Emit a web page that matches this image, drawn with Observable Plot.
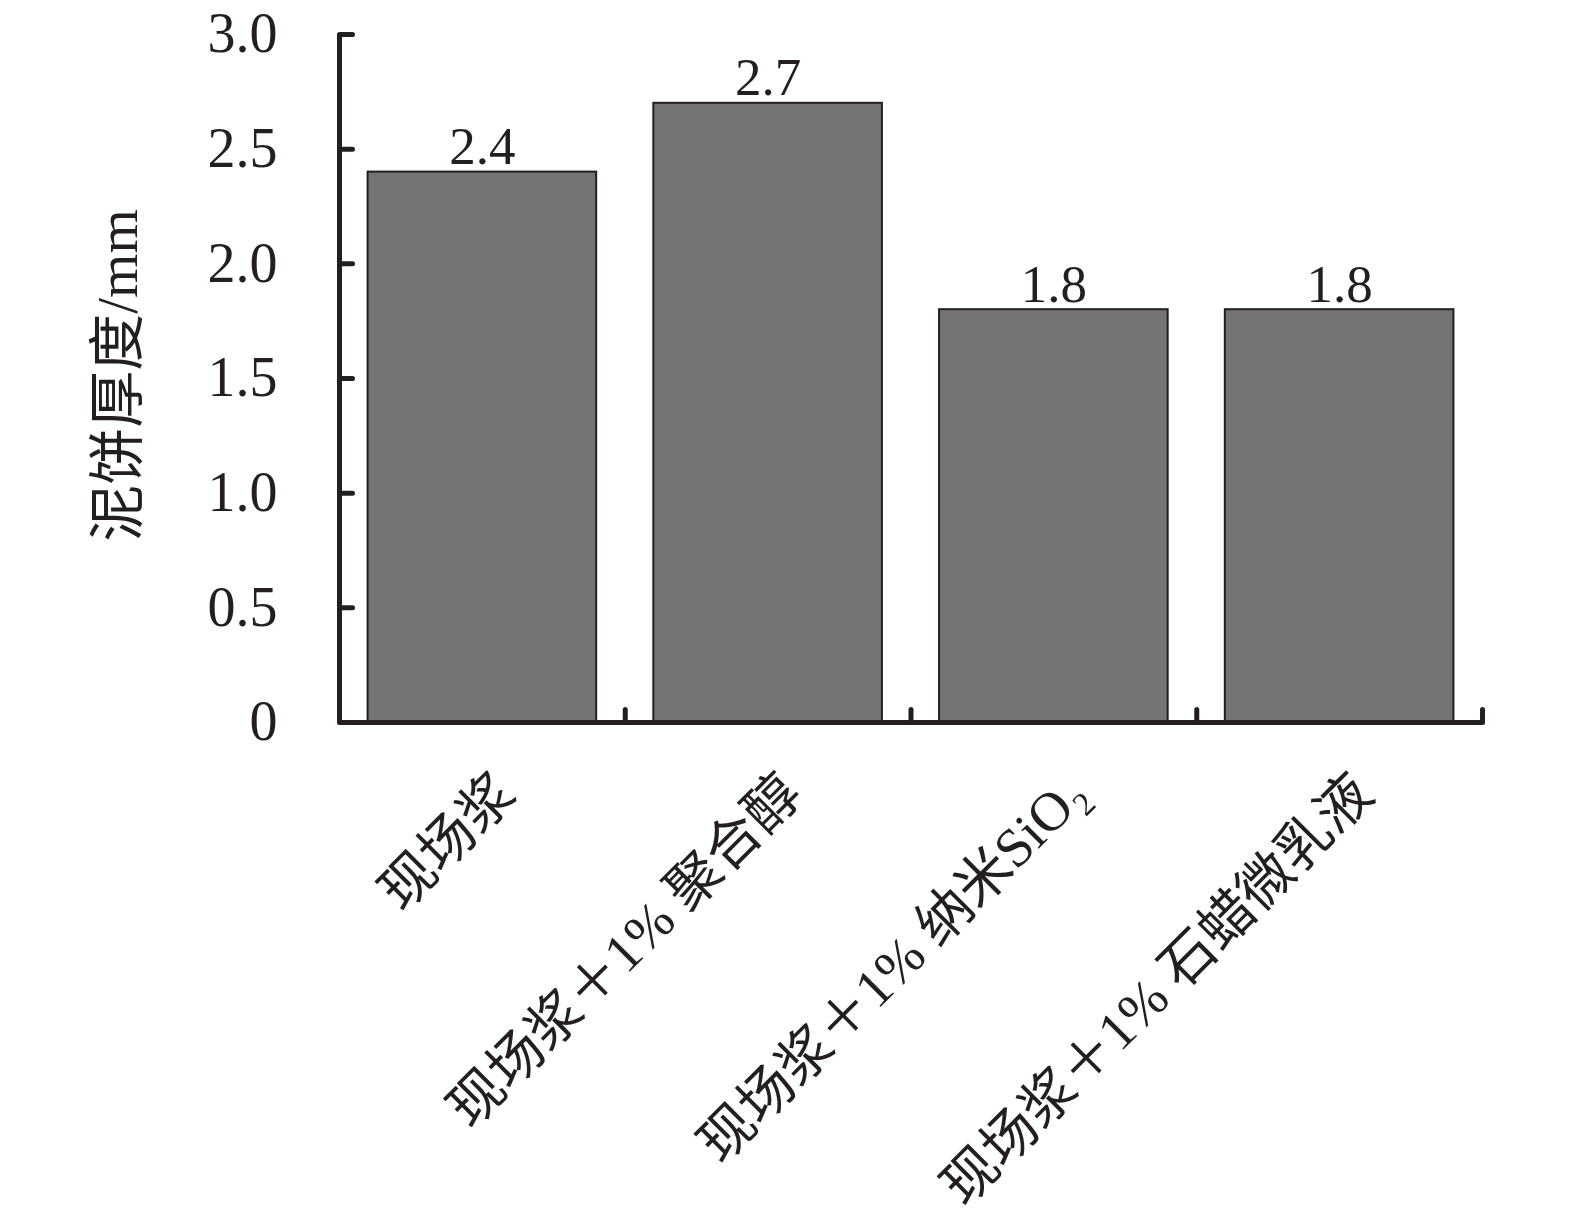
<!DOCTYPE html>
<html>
<head>
<meta charset="utf-8">
<script src="https://cdn.jsdelivr.net/npm/d3@7"></script>
<script src="https://cdn.jsdelivr.net/npm/@observablehq/plot@0.6"></script>
<style>
  html, body { margin: 0; padding: 0; background: #fff; }
  #chart svg { display: block; }
</style>
</head>
<body>
<div id="chart"></div>
<script>
// ---- data ----
const categories = ["现场浆", "现场浆＋1% 聚合醇", "现场浆＋1% 纳米SiO₂", "现场浆＋1% 石蜡微乳液"];
const values = [2.4, 2.7, 1.8, 1.8];
const yTicks = [0, 0.5, 1.0, 1.5, 2.0, 2.5, 3.0];
const yTitle = "泥饼厚度/mm";

const data = categories.map((c, i) => ({i, label: c, value: values[i]}));
const xBounds = categories.map((c, i) => i + 0.5);   // tick marks between categories
const xStart = -0.5;

const FONT = '"Times New Roman", "Liberation Serif", "Noto Sans CJK SC", serif';
const INK = "#231f20";

const chart = Plot.plot({
  width: 1575,
  height: 1223,
  marginLeft: 339,
  marginRight: 93,
  marginTop: 34,
  marginBottom: 501,
  style: {fontFamily: FONT, color: INK, background: "#fff"},
  x: {domain: [xStart, categories.length - 0.5], axis: null},
  y: {domain: [0, 3], axis: null},
  marks: [
    Plot.rectY(data, {
      x1: d => d.i - 0.4, x2: d => d.i + 0.4, y: "value",
      fill: "#767374", stroke: INK, strokeWidth: 2
    }),
    // y axis line
    Plot.ruleX([xStart], {y1: 0, y2: 3, stroke: INK, strokeWidth: 5}),
    // x axis line
    Plot.ruleY([0], {stroke: INK, strokeWidth: 5}),
    // y ticks (inward)
    Plot.vector(yTicks, {
      x: () => xStart, y: d => d, rotate: 90, length: 13, anchor: "start",
      stroke: INK, strokeWidth: 5,
      shape: {draw(ctx, l) { ctx.moveTo(0, 0); ctx.lineTo(0, -l); }}
    }),
    // x ticks (upward, between categories)
    Plot.vector(xBounds, {
      x: d => d, y: () => 0, rotate: 0, length: 13, anchor: "start",
      stroke: INK, strokeWidth: 5,
      shape: {draw(ctx, l) { ctx.moveTo(0, 0); ctx.lineTo(0, -l); }}
    }),
    // y tick labels
    Plot.text(yTicks, {
      x: () => xStart, y: d => d, text: d => d === 0 ? "0" : d.toFixed(1),
      textAnchor: "end", dx: -62, fontSize: 56, fill: INK
    }),
    // value labels
    Plot.text(data, {
      x: "i", y: "value", text: d => d.value.toFixed(1),
      lineAnchor: "bottom", dy: -8, fontSize: 53, fill: INK
    }),
    // x category labels
    Plot.text(data, {
      x: "i", y: () => 0, text: "label",
      rotate: -45, textAnchor: "end", dx: 24, dy: 62, fontSize: 55, fill: INK
    }),
    // y title
    Plot.text([yTitle], {
      frameAnchor: "left", rotate: -90, textAnchor: "middle", dx: -221, dy: -3,
      text: d => d, fontSize: 57, fill: INK
    })
  ]
});
document.getElementById("chart").appendChild(chart);
</script>
</body>
</html>
